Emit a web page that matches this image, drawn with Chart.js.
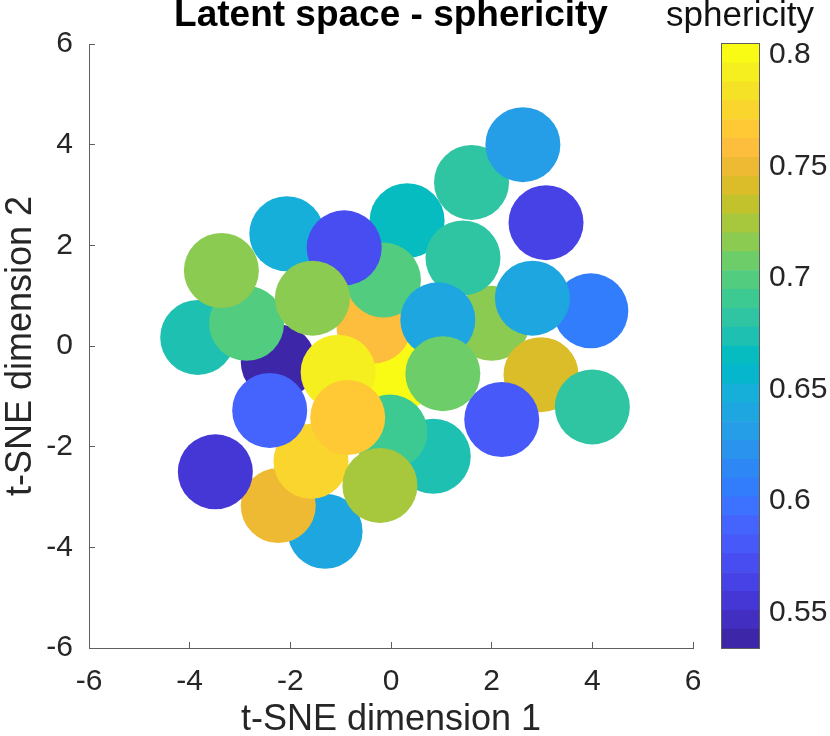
<!DOCTYPE html>
<html>
<head>
<meta charset="utf-8">
<title>Latent space - sphericity</title>
<script src="https://cdn.jsdelivr.net/npm/chart.js@4.4.1/dist/chart.umd.min.js"></script>
<style>
  html, body { margin: 0; padding: 0; background: #fff; }
  #wrap { position: relative; width: 830px; height: 736px; overflow: hidden; }
  #wrap canvas { position: absolute; top: 0; }
  #scatter { left: 0; }
  #colorbar { left: 650px; }
</style>
</head>
<body>
<div id="wrap">
  <canvas id="scatter" width="830" height="736"></canvas>
  <canvas id="colorbar" width="180" height="736"></canvas>
</div>
<script>
// t-SNE embedding, in drawing order (later points end up on top)
const tsneX = [1.60, 2.62, 3.08, 0.32, -2.07, -3.84, -2.24, -2.87, -3.37, 0.14, -0.34,
               -0.15, -0.93, -1.56, 2.00, 1.43, 3.97, 2.81, 0.93, 1.03, -1.05, 2.98,
               2.20, 4.00, 0.84, -1.31, -2.24, -1.59, -0.02, -0.86, -2.41, -0.22, -3.49];
const tsneY = [3.25, 4.00, 2.45, 2.49, 2.23, 0.17, -0.32, 0.45, 1.50, -0.56, 0.40,
               1.31, 1.95, 0.95, 0.45, 1.75, 0.70, 0.95, 0.52, -0.55, -0.52, -0.57,
               -1.46, -1.21, -2.19, -3.68, -3.17, -2.29, -1.71, -1.42, -1.28, -2.77, -2.50];
const sphericity = [0.682, 0.631, 0.564, 0.665, 0.648, 0.674, 0.534, 0.699, 0.716, 0.805, 0.759,
                    0.699, 0.572, 0.716, 0.716, 0.682, 0.606, 0.640, 0.640, 0.708, 0.793, 0.742,
                    0.581, 0.682, 0.674, 0.640, 0.750, 0.776, 0.691, 0.767, 0.589, 0.725, 0.555];

const axisTicks = [-6, -4, -2, 0, 2, 4, 6];
const colorbarTicks = [0.55, 0.6, 0.65, 0.7, 0.75, 0.8];
const nLevels = 32;

// parula base map (64 rows), resampled to nLevels below
const PARULA = [
  [0.2422,0.1504,0.6603],[0.2504,0.1650,0.7076],[0.2578,0.1818,0.7511],[0.2647,0.1978,0.7952],
  [0.2706,0.2147,0.8364],[0.2751,0.2342,0.8710],[0.2783,0.2559,0.8991],[0.2803,0.2782,0.9221],
  [0.2813,0.3006,0.9414],[0.2810,0.3228,0.9579],[0.2795,0.3447,0.9717],[0.2760,0.3667,0.9829],
  [0.2699,0.3892,0.9906],[0.2602,0.4123,0.9952],[0.2440,0.4358,0.9988],[0.2206,0.4603,0.9973],
  [0.1963,0.4847,0.9892],[0.1834,0.5074,0.9798],[0.1786,0.5289,0.9682],[0.1764,0.5499,0.9520],
  [0.1687,0.5703,0.9359],[0.1540,0.5902,0.9218],[0.1460,0.6091,0.9079],[0.1380,0.6276,0.8973],
  [0.1248,0.6459,0.8883],[0.1113,0.6635,0.8763],[0.0952,0.6798,0.8598],[0.0689,0.6948,0.8394],
  [0.0297,0.7082,0.8163],[0.0036,0.7203,0.7917],[0.0067,0.7312,0.7660],[0.0433,0.7411,0.7394],
  [0.0964,0.7500,0.7120],[0.1408,0.7584,0.6842],[0.1717,0.7670,0.6554],[0.1938,0.7758,0.6251],
  [0.2161,0.7843,0.5923],[0.2470,0.7918,0.5567],[0.2906,0.7973,0.5188],[0.3406,0.8008,0.4789],
  [0.3909,0.8029,0.4354],[0.4456,0.8024,0.3909],[0.5044,0.7993,0.3480],[0.5616,0.7942,0.3045],
  [0.6174,0.7876,0.2612],[0.6720,0.7793,0.2227],[0.7242,0.7698,0.1910],[0.7738,0.7598,0.1646],
  [0.8203,0.7498,0.1535],[0.8634,0.7406,0.1596],[0.9035,0.7330,0.1774],[0.9393,0.7288,0.2100],
  [0.9728,0.7298,0.2394],[0.9956,0.7434,0.2371],[0.9970,0.7659,0.2199],[0.9952,0.7893,0.2028],
  [0.9892,0.8136,0.1885],[0.9786,0.8386,0.1766],[0.9676,0.8639,0.1643],[0.9610,0.8890,0.1537],
  [0.9597,0.9135,0.1423],[0.9628,0.9373,0.1265],[0.9691,0.9606,0.1064],[0.9769,0.9839,0.0805]
];

function parula(n) {
    const out = [];
    for (let k = 0; k < n; k++) {
        const t = k / (n - 1) * (PARULA.length - 1);
        const i = Math.min(Math.floor(t), PARULA.length - 2);
        const f = t - i;
        const c = PARULA[i].map((a, j) => Math.round(255 * (a + (PARULA[i + 1][j] - a) * f)));
        out.push(`rgb(${c.join(',')})`);
    }
    return out;
}

const levels = parula(nLevels);
const cmin = Math.min(...sphericity);
const cmax = Math.max(...sphericity);
const step = (cmax - cmin) / nLevels;

function levelOf(v) {
    return Math.min(nLevels - 1, Math.max(0, Math.floor((v - cmin) / step)));
}

const FONT = '"Liberation Sans", Arial, Helvetica, sans-serif';
const AXIS = '#5f5f5f';
const TEXT = '#262626';
Chart.defaults.font.family = FONT;
Chart.defaults.color = TEXT;

// 1. scatter of the embedding
new Chart(document.getElementById('scatter'), {
    type: 'scatter',
    data: {
        datasets: [{
            data: tsneX.map((x, i) => ({ x: x, y: tsneY[i] })),
            pointRadius: 37.5,
            pointHoverRadius: 37.5,
            pointBorderWidth: 0,
            pointBackgroundColor: sphericity.map(v => levels[levelOf(v)]),
            pointBorderColor: sphericity.map(v => levels[levelOf(v)])
        }]
    },
    options: {
        responsive: false,
        animation: false,
        events: [],
        layout: { padding: { left: 0, right: 137, top: 0, bottom: 0 } },
        plugins: {
            legend: { display: false },
            tooltip: { enabled: false },
            title: {
                display: true,
                fullSize: false,
                text: 'Latent space - sphericity',
                color: '#000',
                font: { size: 37, weight: 'bold', lineHeight: 0.86 },
                padding: { top: 0, bottom: 12.2 }
            }
        },
        scales: {
            x: {
                type: 'linear',
                min: -6,
                max: 6,
                afterBuildTicks: s => { s.ticks = axisTicks.map(v => ({ value: v })); },
                afterFit: s => { s.height = 88; },
                grid: { drawOnChartArea: false, tickLength: -6, color: AXIS },
                border: { color: AXIS, width: 1 },
                ticks: { font: { size: 30 }, padding: 22, maxRotation: 0, autoSkip: false, callback: v => String(v) },
                title: { display: true, text: 't-SNE dimension 1', font: { size: 36, lineHeight: 0.9 }, padding: 0 }
            },
            y: {
                type: 'linear',
                min: -6,
                max: 6,
                afterBuildTicks: s => { s.ticks = axisTicks.map(v => ({ value: v })); },
                afterFit: s => { s.width = 89; },
                grid: { drawOnChartArea: false, tickLength: -6, color: AXIS },
                border: { color: AXIS, width: 1 },
                ticks: { font: { size: 30 }, padding: 22, autoSkip: false, callback: v => String(v) },
                title: { display: true, text: 't-SNE dimension 2', font: { size: 36, lineHeight: 0.9 }, padding: { top: 5, bottom: 0 } }
            }
        }
    }
});

// 2. colorbar, one floating bar per colour level
const frame = {
    id: 'frame',
    afterDatasetsDraw(chart) {
        const { ctx, chartArea: a } = chart;
        ctx.save();
        ctx.strokeStyle = AXIS;
        ctx.lineWidth = 1;
        ctx.strokeRect(Math.round(a.left) - 0.5, Math.round(a.top) - 0.5,
            Math.round(a.right - a.left) + 1, Math.round(a.bottom - a.top) + 1);
        ctx.restore();
    }
};

new Chart(document.getElementById('colorbar'), {
    type: 'bar',
    data: {
        labels: [''],
        datasets: levels.map((col, k) => ({
            data: [[cmin + k * step, cmin + (k + 1) * step]],
            backgroundColor: col,
            borderWidth: 0,
            grouped: false,
            barPercentage: 1,
            categoryPercentage: 1,
            yAxisID: 'y'
        }))
    },
    options: {
        responsive: false,
        animation: false,
        events: [],
        layout: { padding: { left: 0, right: 0, top: 0, bottom: 88 } },
        plugins: {
            legend: { display: false },
            tooltip: { enabled: false },
            title: {
                display: true,
                text: 'sphericity',
                color: '#111',
                font: { size: 35, weight: 'normal', lineHeight: 0.92 },
                padding: { top: 0, bottom: 11.8 }
            }
        },
        scales: {
            x: { display: false },
            y: {
                type: 'linear',
                position: 'right',
                min: cmin,
                max: cmax,
                afterBuildTicks: s => { s.ticks = colorbarTicks.map(v => ({ value: v })); },
                afterFit: s => { s.width = 71; },
                grid: { drawOnChartArea: false, tickLength: -6, color: AXIS },
                border: { color: AXIS, width: 1 },
                ticks: { font: { size: 30 }, padding: 16, autoSkip: false, callback: v => String(Math.round(v * 100) / 100) }
            },
            pad: {
                type: 'linear',
                position: 'left',
                grid: { display: false },
                border: { display: false },
                ticks: { display: false },
                afterFit: s => { s.width = 72; }
            }
        }
    },
    plugins: [frame]
});
</script>
</body>
</html>
